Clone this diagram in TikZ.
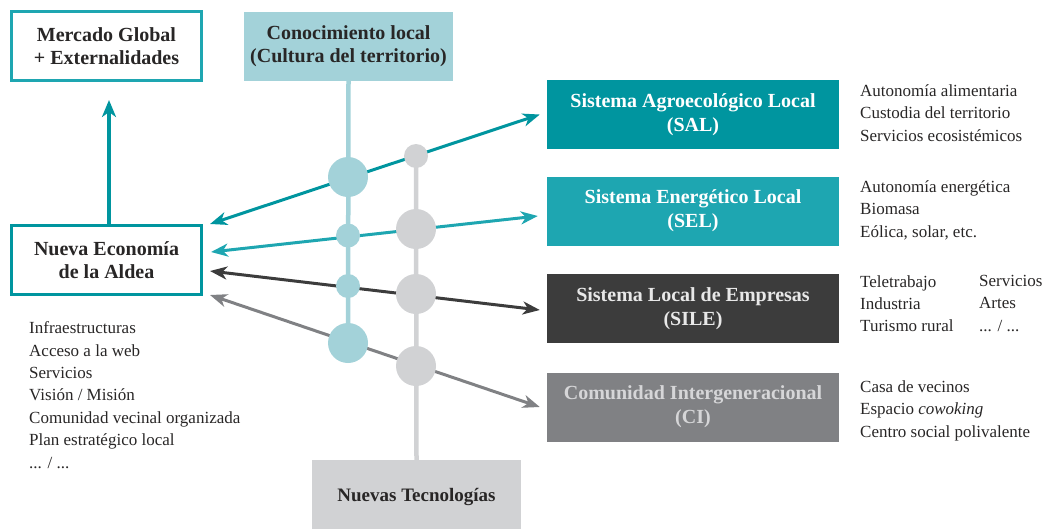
\documentclass[tikz,border=0pt]{standalone}
\usepackage{fontspec}
\setmainfont{Liberation Serif}
\usetikzlibrary{arrows.meta}
\definecolor{tealA}{RGB}{0,149,159}
\definecolor{tealB}{RGB}{30,166,177}
\definecolor{lblue}{RGB}{163,210,217}
\definecolor{lgray}{RGB}{209,210,212}
\definecolor{dgray}{RGB}{60,60,60}
\definecolor{mgray}{RGB}{128,129,132}
\definecolor{txt}{RGB}{40,38,38}
\definecolor{silet}{RGB}{232,232,232}
\definecolor{cit}{RGB}{214,214,216}
\pgfdeclarelayer{bg}
\pgfsetlayers{bg,main}
\begin{document}
\begin{tikzpicture}[x=1pt,y=-1pt,
  titletext/.style={font=\bfseries\fontsize{20}{22.5}\selectfont, align=center, inner sep=0pt},
  outlinebox/.style={titletext, draw, line width=3pt, fill=white, minimum width=190pt, minimum height=69pt, text=txt},
  solidbox/.style={titletext, font=\bfseries\fontsize{20}{24}\selectfont, minimum width=292pt, minimum height=69pt},
  listtext/.style={font=\fontsize{17}{22.4}\selectfont, align=left, inner sep=0pt, text=txt, anchor=north west},
  dot/.style={circle, inner sep=0pt, minimum size=#1},
  bluedot/.style={dot=#1, fill=lblue},
  graydot/.style={dot=#1, fill=lgray},
  conn/.style={line width=3pt, {Stealth[length=17pt,width=13pt,inset=5pt]}-{Stealth[length=17pt,width=13pt,inset=5pt]}},
  vline/.style={line width=4.5pt},
]
\useasboundingbox (0,0) rectangle (1043,528);

% left boxes
\node[outlinebox, draw=tealB] (merc) at (106.5,46) {Mercado Global\\+ Externalidades};
\node[outlinebox, draw=tealA] (nueva) at (106.5,260) {Nueva Economía\\de la Aldea};

% top and bottom boxes
\node[titletext, font=\bfseries\fontsize{20}{23}\selectfont, fill=lblue, minimum width=209pt, minimum height=69pt, text=txt] (cono) at (348.5,46.5) {Conocimiento local\\(Cultura del territorio)};
\node[titletext, fill=lgray, minimum width=209pt, minimum height=74pt, text=txt, font=\bfseries\fontsize{19}{22}\selectfont] (nuevas) at (416.5,497) {Nuevas Tecnologías};

% right boxes
\node[solidbox, fill=tealA, text=white] (sal) at (693,114.5) {Sistema Agroecológico Local\\(SAL)};
\node[solidbox, fill=tealB, text=white] (sel) at (693,211) {Sistema Energético Local\\(SEL)};
\node[solidbox, fill=dgray, text=silet] (sile) at (693,308.5) {Sistema Local de Empresas\\(SILE)};
\node[solidbox, fill=mgray, text=cit] (ci) at (693,407) {Comunidad Intergeneracional\\(CI)};

% circles
\node[bluedot=40pt] (c1) at (348,177) {};
\node[bluedot=24pt] (c2) at (348,235.5) {};
\node[bluedot=24pt] (c3) at (348,286) {};
\node[bluedot=40pt] (c4) at (348,343) {};
\node[graydot=24pt] (g1) at (416,156) {};
\node[graydot=40pt] (g2) at (416,229) {};
\node[graydot=40pt] (g3) at (416,294) {};
\node[graydot=40pt] (g4) at (416,366) {};

% lists
\node[listtext] (llist) at (29,321.5) {Infraestructuras\\Acceso a la web\\Servicios\\Visión / Misión\\Comunidad vecinal organizada\\Plan estratégico local\\... / ...};
\node[listtext] (salt) at (860,84.5) {Autonomía alimentaria\\Custodia del territorio\\Servicios ecosistémicos};
\node[listtext] (selt) at (860,180.5) {Autonomía energética\\Biomasa\\Eólica, solar, etc.};
\node[listtext] (silea) at (860,275) {Teletrabajo\\Industria\\Turismo rural};
\node[listtext] (sileb) at (979,275) {Servicios\\Artes\\... / ...};
\node[listtext] (cil) at (860,380.5) {Casa de vecinos\\Espacio \textit{cowoking}\\Centro social polivalente};

\begin{pgfonlayer}{bg}
\draw[vline, lblue] (cono.south) -- (c4.center);
\draw[vline, lgray] (g1.center) -- (nuevas.north);
\draw[conn, tealA] ([xshift=7pt,yshift=36pt]nueva.east) -- ([xshift=-7pt]sal.west);
\draw[conn, tealB] ([xshift=8pt,yshift=8pt]nueva.east) -- ([xshift=-9pt,yshift=-5pt]sel.west);
\draw[conn, dgray] ([xshift=7pt,yshift=-11pt]nueva.east) -- ([xshift=-7pt,yshift=-1.5pt]sile.west);
\draw[conn, mgray] ([xshift=7pt,yshift=-35pt]nueva.east) -- ([xshift=-7pt]ci.west);
\end{pgfonlayer}
\draw[line width=3.5pt, tealA, -{Stealth[length=17pt,width=14pt,inset=5pt]}] ([xshift=2.5pt]nueva.north) -- ([xshift=2.5pt,yshift=-18pt]merc.south);
\end{tikzpicture}
\end{document}
